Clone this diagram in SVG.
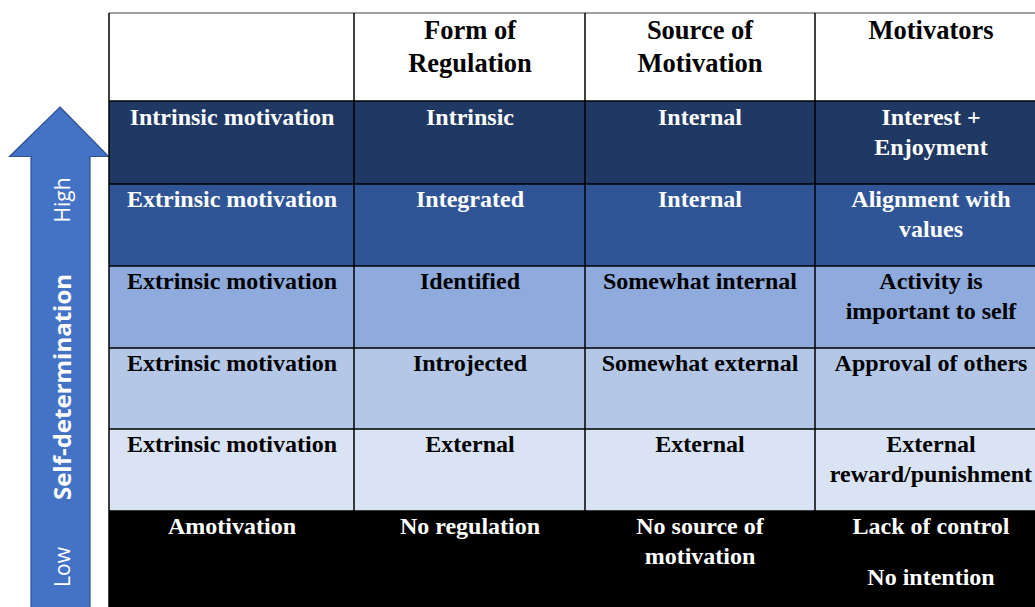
<svg xmlns="http://www.w3.org/2000/svg" width="1035" height="607" viewBox="0 0 1035 607">
  <style>
    .cell { font-family: "Liberation Serif", "Times New Roman", serif; font-weight: bold; font-size: 24px; text-anchor: middle; }
    .head { font-family: "Liberation Serif", "Times New Roman", serif; font-weight: bold; font-size: 26.5px; text-anchor: middle; fill: #000; }
    .w { fill: #ffffff; }
    .k { fill: #000000; }
    .grid { stroke: #000; stroke-width: 1.5; fill: none; }
    .axis { font-family: "Open Sans", "Noto Sans", sans-serif; fill: #ffffff; text-anchor: middle; }
  </style>

  <rect width="1035" height="607" fill="#ffffff"/>

  <!-- Self-determination scale arrow -->
  <g id="scale-arrow">
    <path d="M60,107 L108.5,156.5 L90,156.5 L90,612 L31,612 L31,156.5 L9.5,156.5 Z" fill="#4472C4" stroke="#2F528F" stroke-width="1.2"/>
    <text class="axis" font-size="21" transform="translate(70,200) rotate(-90)">High</text>
    <text class="axis" font-size="24" font-weight="bold" transform="translate(70.5,387) rotate(-90)">Self-determination</text>
    <text class="axis" font-size="21" transform="translate(70,567) rotate(-90)">Low</text>
  </g>

  <!-- Row backgrounds -->
  <g id="row-fills">
    <rect x="109" y="13" width="926" height="88" fill="#ffffff"/>
    <rect x="109" y="101" width="926" height="83" fill="#1F3864"/>
    <rect x="109" y="184" width="926" height="82" fill="#2F5597"/>
    <rect x="109" y="266" width="926" height="82" fill="#8FAADC"/>
    <rect x="109" y="348" width="926" height="81" fill="#B4C7E7"/>
    <rect x="109" y="429" width="926" height="82" fill="#DAE3F3"/>
    <rect x="109" y="511" width="926" height="96" fill="#000000"/>
  </g>

  <!-- Table rules -->
  <g id="grid">
    <line x1="109" y1="13" x2="1035" y2="13" stroke="#7F7F7F" stroke-width="1.5"/>
    <line class="grid" x1="109" y1="101" x2="1035" y2="101"/>
    <line class="grid" x1="109" y1="184" x2="1035" y2="184"/>
    <line class="grid" x1="109" y1="266" x2="1035" y2="266"/>
    <line class="grid" x1="109" y1="348" x2="1035" y2="348"/>
    <line class="grid" x1="109" y1="429" x2="1035" y2="429"/>
    <line class="grid" x1="109" y1="511" x2="1035" y2="511"/>
    <line class="grid" x1="109" y1="13" x2="109" y2="607"/>
    <line class="grid" x1="354" y1="13" x2="354" y2="607"/>
    <line class="grid" x1="585" y1="13" x2="585" y2="607"/>
    <line class="grid" x1="815" y1="13" x2="815" y2="607"/>
  </g>

  <!-- Header -->
  <g id="header">
    <text class="head" x="470" y="38.5">Form of</text>
    <text class="head" x="470" y="71.5">Regulation</text>
    <text class="head" x="700" y="38.5">Source of</text>
    <text class="head" x="700" y="71.5">Motivation</text>
    <text class="head" x="931" y="38.5">Motivators</text>
  </g>

  <g id="row-intrinsic">
    <text class="cell w" x="232" y="124.5">Intrinsic motivation</text>
    <text class="cell w" x="470" y="124.5">Intrinsic</text>
    <text class="cell w" x="700" y="124.5">Internal</text>
    <text class="cell w" x="931" y="124.5">Interest +</text>
    <text class="cell w" x="931" y="154.5">Enjoyment</text>
  </g>

  <g id="row-integrated">
    <text class="cell w" x="232" y="206.5">Extrinsic motivation</text>
    <text class="cell w" x="470" y="206.5">Integrated</text>
    <text class="cell w" x="700" y="206.5">Internal</text>
    <text class="cell w" x="931" y="206.5">Alignment with</text>
    <text class="cell w" x="931" y="236.5">values</text>
  </g>

  <g id="row-identified">
    <text class="cell k" x="232" y="289">Extrinsic motivation</text>
    <text class="cell k" x="470" y="289">Identified</text>
    <text class="cell k" x="700" y="289">Somewhat internal</text>
    <text class="cell k" x="931" y="289">Activity is</text>
    <text class="cell k" x="931" y="319">important to self</text>
  </g>

  <g id="row-introjected">
    <text class="cell k" x="232" y="371">Extrinsic motivation</text>
    <text class="cell k" x="470" y="371">Introjected</text>
    <text class="cell k" x="700" y="371">Somewhat external</text>
    <text class="cell k" x="931" y="371">Approval of others</text>
  </g>

  <g id="row-external">
    <text class="cell k" x="232" y="452">Extrinsic motivation</text>
    <text class="cell k" x="470" y="452">External</text>
    <text class="cell k" x="700" y="452">External</text>
    <text class="cell k" x="931" y="452">External</text>
    <text class="cell k" x="931" y="482">reward/punishment</text>
  </g>

  <g id="row-amotivation">
    <text class="cell w" x="232" y="534">Amotivation</text>
    <text class="cell w" x="470" y="534">No regulation</text>
    <text class="cell w" x="700" y="534">No source of</text>
    <text class="cell w" x="700" y="564">motivation</text>
    <text class="cell w" x="931" y="534">Lack of control</text>
    <text class="cell w" x="931" y="585">No intention</text>
  </g>
</svg>
